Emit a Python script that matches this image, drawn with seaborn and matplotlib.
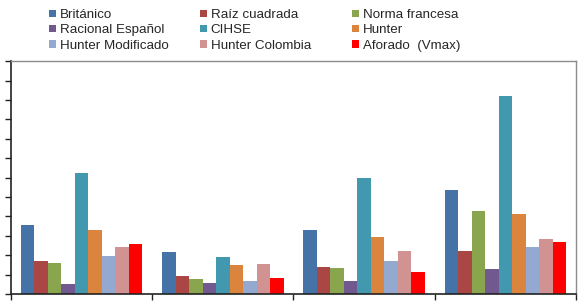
import pandas as pd
import numpy as np
import seaborn as sns
import matplotlib.pyplot as plt

# Data (units = y tick steps)
grupos = ['G1', 'G2', 'G3', 'G4']
metodos = ['Británico', 'Raíz cuadrada', 'Norma francesa', 'Racional Español',
           'CIHSE', 'Hunter', 'Hunter Modificado', 'Hunter Colombia', 'Aforado  (Vmax)']
britanico = [3.54, 2.14, 3.28, 5.36]
raiz = [1.72, 0.95, 1.39, 2.20]
norma = [1.61, 0.79, 1.32, 4.27]
racional = [0.52, 0.59, 0.65, 1.29]
cihse = [6.23, 1.90, 5.97, 10.20]
hunter = [3.28, 1.47, 2.92, 4.14]
hunter_mod = [1.94, 0.69, 1.72, 2.42]
hunter_col = [2.40, 1.57, 2.20, 2.85]
aforado = [2.58, 0.84, 1.13, 2.70]

colores = ['#4572A7', '#AA4643', '#89A54E', '#71588F', '#4198AF',
           '#DB843D', '#93A9CF', '#D19392', '#FF0000']

series = [britanico, raiz, norma, racional, cihse, hunter, hunter_mod, hunter_col, aforado]
df = pd.DataFrame([(g, m, v) for m, vals in zip(metodos, series) for g, v in zip(grupos, vals)],
                  columns=['grupo', 'metodo', 'valor'])

sns.set_style('white')
plt.rcParams['font.family'] = ['Liberation Sans', 'DejaVu Sans']

fig = plt.figure(figsize=(5.84, 3.04), dpi=100)
ax = fig.add_axes([0.0188, 0.033, 0.9675, 0.766])

sns.barplot(data=df, x='grupo', y='valor', hue='metodo', hue_order=metodos,
            palette=colores, width=0.86, gap=0, saturation=1, linewidth=0,
            ax=ax, legend=True)

ax.set_xlim(-0.5, 3.5)
ax.set_ylim(0, 12)
ax.set_xticks([-0.5, 0.5, 1.5, 2.5, 3.5])
ax.set_xticklabels([])
ax.set_yticks(np.arange(0, 13, 1))
ax.set_yticklabels([])
ax.set_xlabel('')
ax.set_ylabel('')
ax.tick_params(axis='both', direction='out', length=4, width=1, color='#222222',
               bottom=True, left=True)
for s in ['left', 'bottom']:
    ax.spines[s].set_color('#222222')
    ax.spines[s].set_linewidth(1.2)
for s in ['top', 'right']:
    ax.spines[s].set_color('#8c8c8c')
    ax.spines[s].set_linewidth(1)

# legend: 3 equal-width columns, filled row by row as in the reference
handles, labels = ax.get_legend_handles_labels()
ax.get_legend().remove()
col_x = [0.0755, 0.334, 0.594]
for c in range(3):
    idx = [c, c + 3, c + 6]
    fig.legend([handles[i] for i in idx], [labels[i] for i in idx],
               ncol=1, loc='upper left', bbox_to_anchor=(col_x[c], 0.988), frameon=False,
               fontsize=9.6, handlelength=0.48, handleheight=0.48, handletextpad=0.3,
               labelspacing=0.25, borderaxespad=0)

fig.savefig('out.png', dpi=100)
